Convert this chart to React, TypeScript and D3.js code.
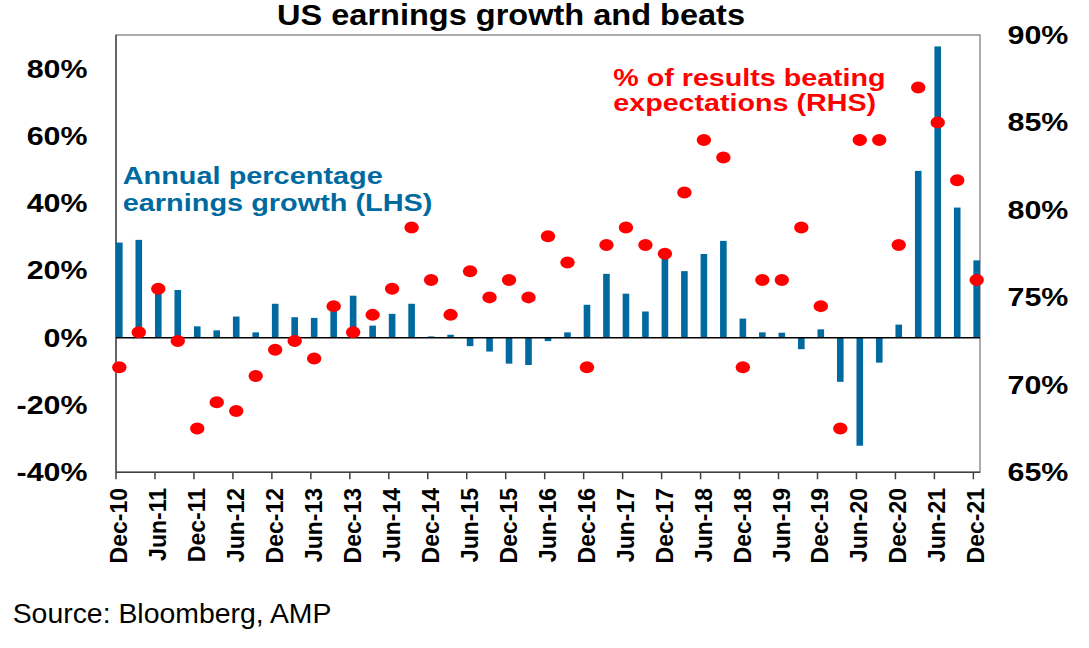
import React from "react";
import * as d3 from "d3";

const tickLabels = [
  "Dec-10", "Jun-11", "Dec-11", "Jun-12", "Dec-12", "Jun-13", "Dec-13", "Jun-14",
  "Dec-14", "Jun-15", "Dec-15", "Jun-16", "Dec-16", "Jun-17", "Dec-17", "Jun-18",
  "Dec-18", "Jun-19", "Dec-19", "Jun-20", "Dec-20", "Jun-21", "Dec-21",
];

// Annual percentage earnings growth (LHS), quarterly Dec-10 .. Dec-21
const growth = [
  28.3, 29.1, 15.5, 14.2, 3.4, 2.2, 6.3, 1.6, 10.1, 6.1,
  5.9, 9.1, 12.5, 3.6, 7.1, 10.1, 0.4, 0.9, -2.5, -4.1,
  -7.7, -8.1, -1.0, 1.6, 9.8, 19.0, 13.1, 7.8, 23.9, 19.8,
  24.9, 28.8, 5.7, 1.6, 1.5, -3.4, 2.5, -13.1, -32.1, -7.4,
  3.9, 49.6, 86.6, 38.7, 23.0,
];

// % of results beating expectations (RHS)
const beats = [
  71, 73, 75.5, 72.5, 67.5, 69, 68.5, 70.5, 72, 72.5,
  71.5, 74.5, 73, 74, 75.5, 79, 76, 74, 76.5, 75,
  76, 75, 78.5, 77, 71, 78, 79, 78, 77.5, 81,
  84, 83, 71, 76, 76, 79, 74.5, 67.5, 84, 84,
  78, 87, 85, 81.7, 76,
];

const leftTicks = [-40, -20, 0, 20, 40, 60, 80];
const rightTicks = [65, 70, 75, 80, 85, 90];

const BLUE = "#006AA0";
const RED = "#FF0000";
const FONT = "'Liberation Sans', Arial, Helvetica, sans-serif";

export default function App() {
  const W = 1089, H = 648;
  const L = 116, R = 980, T = 35, B = 472.3;

  const x = d3.scaleLinear().domain([-0.17, growth.length - 1 + 0.17]).range([L, R]);
  const yL = d3.scaleLinear().domain([-40, 90]).range([B, T]);
  const yR = d3.scaleLinear().domain([65, 90]).range([B, T]);
  const barW = 6.6;
  const sx = 1.17;

  return (
    <div style={{ position: "fixed", left: 0, top: 0, background: "#fff" }}>
      <svg width={W} height={H} style={{ display: "block", fontFamily: FONT }}>
        <rect x={0} y={0} width={W} height={H} fill="#fff" />
        {/* title */}
        <text
          x={511}
          y={25}
          textAnchor="middle"
          fontSize={29}
          fontWeight="bold"
          textLength={468}
          lengthAdjust="spacingAndGlyphs"
          fill="#000"
        >
          US earnings growth and beats
        </text>

        {/* plot frame */}
        <rect x={L} y={T} width={R - L} height={B - T} fill="none" stroke="#808080" strokeWidth={1.3} />
        <line x1={L} x2={L} y1={T} y2={B} stroke="#505050" strokeWidth={1.5} />

        {/* bars */}
        {growth.map((v, i) => (
          <rect
            key={"b" + i}
            x={x(i) - barW / 2}
            y={Math.min(yL(v), yL(0))}
            width={barW}
            height={Math.abs(yL(v) - yL(0))}
            fill={BLUE}
          />
        ))}

        {/* zero line */}
        <line x1={L} x2={R} y1={yL(0)} y2={yL(0)} stroke="#000" strokeWidth={1.5} />

        {/* dots */}
        {beats.map((v, i) => (
          <ellipse key={"d" + i} cx={x(i)} cy={yR(v)} rx={7.2} ry={6} fill={RED} />
        ))}

        {/* bottom axis */}
        <line x1={L} x2={R} y1={B} y2={B} stroke="#404040" strokeWidth={1.5} />
        {tickLabels.map((lab, k) => {
          const tx = x(2 * k - 0.17);
          return (
            <g key={"t" + k}>
              <line x1={tx} x2={tx} y1={B} y2={B + 7} stroke="#404040" strokeWidth={1.5} />
              <text
                transform={`translate(${tx + 11},488) rotate(-90)`}
                textAnchor="end"
                fontSize={23}
                fontWeight="bold"
                fill="#000"
              >
                {lab}
              </text>
            </g>
          );
        })}

        {/* left axis labels */}
        {leftTicks.map((v) => (
          <text
            key={"l" + v}
            transform={`translate(87.5,${yL(v) + 9}) scale(${sx},1)`}
            textAnchor="end"
            fontSize={26}
            fontWeight="bold"
            fill="#000"
          >
            {v + "%"}
          </text>
        ))}

        {/* right axis labels */}
        {rightTicks.map((v) => (
          <text
            key={"r" + v}
            transform={`translate(1007.5,${yR(v) + 9}) scale(${sx},1)`}
            textAnchor="start"
            fontSize={26}
            fontWeight="bold"
            fill="#000"
          >
            {v + "%"}
          </text>
        ))}

        {/* annotations */}
        <g transform={`translate(122.7,0) scale(${sx},1)`} fill={BLUE} fontSize={24.7} fontWeight="bold">
          <text x={0} y={184.3}>Annual percentage</text>
          <text x={0} y={211}>earnings growth (LHS)</text>
        </g>
        <g transform={`translate(613.3,0) scale(${sx},1)`} fill={RED} fontSize={24.5} fontWeight="bold">
          <text x={0} y={86}>% of results beating</text>
          <text x={0} y={111.5}>expectations (RHS)</text>
        </g>

        {/* source */}
        <text x={12.7} y={623} fontSize={28.4} fill="#000">
          Source: Bloomberg, AMP
        </text>
      </svg>
    </div>
  );
}
